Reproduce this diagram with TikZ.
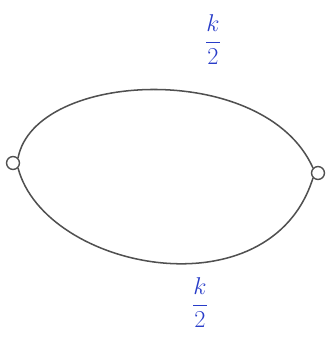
\documentclass[tikz,border=0pt]{standalone}
\usepackage{amsmath,amssymb}
\usepackage{tikz}

\definecolor{penblue}{RGB}{40,60,200}
\definecolor{pencil}{RGB}{80,80,80}

\begin{document}
\begin{tikzpicture}[
  x=0.03cm, y=-0.03cm,
  vtx/.style={circle, draw=pencil, line width=1.2pt, inner sep=0pt, minimum size=11pt},
  arc/.style={draw=pencil, line width=1.3pt},
  lbl/.style={text=penblue, font=\fontsize{21}{23}\selectfont}
]
\useasboundingbox (0,0) rectangle (333,338);
% the two vertices
\node[vtx] (l) at (13,163) {};
\node[vtx] (r) at (318,173) {};
% the two arcs between them
\draw[arc] (l.north east) .. controls (35,70) and (265,60) .. (r.north west);
\draw[arc] (l.south east) .. controls (45,270) and (270,315) .. (r.south west);
% labels
\node[lbl] (ktop) at (213,40) {$\dfrac{k}{2}$};
\node[lbl] (kbot) at (200,303) {$\dfrac{k}{2}$};
\end{tikzpicture}
\end{document}
